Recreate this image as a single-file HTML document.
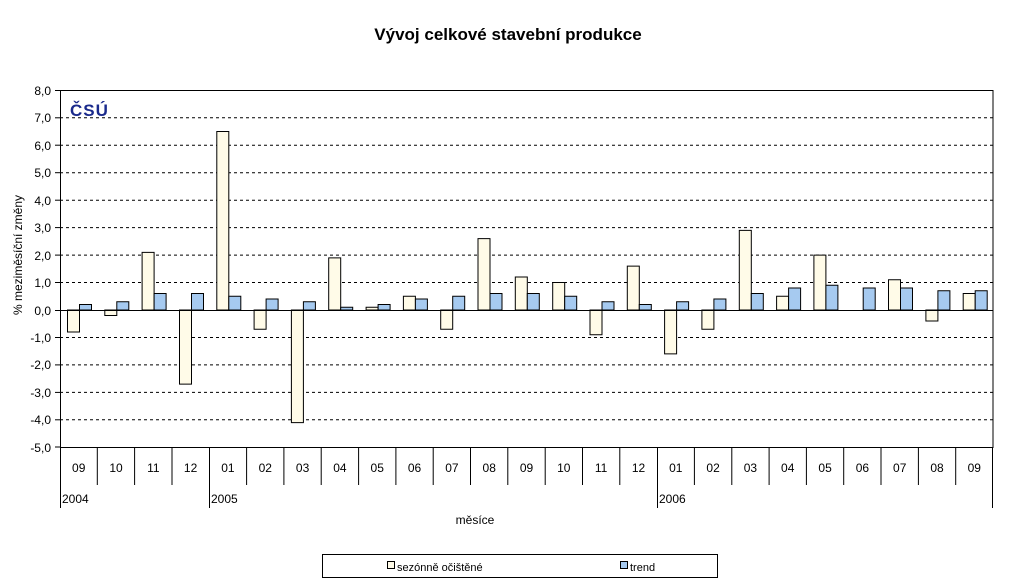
<!DOCTYPE html>
<html><head><meta charset="utf-8"><style>
body{margin:0;background:#fff}
svg{display:block;font-family:"Liberation Sans",sans-serif}
</style></head><body>
<svg width="1020" height="588" viewBox="0 0 1020 588">
<rect width="1020" height="588" fill="#fff"/>
<text x="508" y="40" text-anchor="middle" font-size="17" font-weight="bold">Vývoj celkové stavební produkce</text>
<g stroke="#000" stroke-width="1" stroke-dasharray="3,3">
<line x1="60" x2="993" y1="117.8" y2="117.8"/><line x1="60" x2="993" y1="145.2" y2="145.2"/>
<line x1="60" x2="993" y1="172.7" y2="172.7"/><line x1="60" x2="993" y1="200.2" y2="200.2"/>
<line x1="60" x2="993" y1="227.6" y2="227.6"/><line x1="60" x2="993" y1="255.1" y2="255.1"/>
<line x1="60" x2="993" y1="282.5" y2="282.5"/>
<line x1="60" x2="993" y1="337.5" y2="337.5"/><line x1="60" x2="993" y1="364.9" y2="364.9"/>
<line x1="60" x2="993" y1="392.4" y2="392.4"/><line x1="60" x2="993" y1="419.8" y2="419.8"/>
</g>
<g transform="translate(0,310) scale(1,-27.46)" stroke="#000" vector-effect="non-scaling-stroke">
<g fill="#fffbe8" stroke="#000">
<rect vector-effect="non-scaling-stroke" x="67.5" width="12" y="-0.8" height="0.8"/>
<rect vector-effect="non-scaling-stroke" x="104.8" width="12" y="-0.2" height="0.2"/>
<rect vector-effect="non-scaling-stroke" x="142.1" width="12" y="0" height="2.1"/>
<rect vector-effect="non-scaling-stroke" x="179.5" width="12" y="-2.7" height="2.7"/>
<rect vector-effect="non-scaling-stroke" x="216.8" width="12" y="0" height="6.5"/>
<rect vector-effect="non-scaling-stroke" x="254.1" width="12" y="-0.7" height="0.7"/>
<rect vector-effect="non-scaling-stroke" x="291.4" width="12" y="-4.1" height="4.1"/>
<rect vector-effect="non-scaling-stroke" x="328.7" width="12" y="0" height="1.9"/>
<rect vector-effect="non-scaling-stroke" x="366.1" width="12" y="0" height="0.1"/>
<rect vector-effect="non-scaling-stroke" x="403.4" width="12" y="0" height="0.5"/>
<rect vector-effect="non-scaling-stroke" x="440.7" width="12" y="-0.7" height="0.7"/>
<rect vector-effect="non-scaling-stroke" x="478.0" width="12" y="0" height="2.6"/>
<rect vector-effect="non-scaling-stroke" x="515.3" width="12" y="0" height="1.2"/>
<rect vector-effect="non-scaling-stroke" x="552.7" width="12" y="0" height="1.0"/>
<rect vector-effect="non-scaling-stroke" x="590.0" width="12" y="-0.9" height="0.9"/>
<rect vector-effect="non-scaling-stroke" x="627.3" width="12" y="0" height="1.6"/>
<rect vector-effect="non-scaling-stroke" x="664.6" width="12" y="-1.6" height="1.6"/>
<rect vector-effect="non-scaling-stroke" x="701.9" width="12" y="-0.7" height="0.7"/>
<rect vector-effect="non-scaling-stroke" x="739.3" width="12" y="0" height="2.9"/>
<rect vector-effect="non-scaling-stroke" x="776.6" width="12" y="0" height="0.5"/>
<rect vector-effect="non-scaling-stroke" x="813.9" width="12" y="0" height="2.0"/>
<rect vector-effect="non-scaling-stroke" x="888.5" width="12" y="0" height="1.1"/>
<rect vector-effect="non-scaling-stroke" x="925.9" width="12" y="-0.4" height="0.4"/>
<rect vector-effect="non-scaling-stroke" x="963.2" width="12" y="0" height="0.6"/>
</g>
<g fill="#a6caf0" stroke="#000">
<rect vector-effect="non-scaling-stroke" x="79.5" width="12" y="0" height="0.2"/>
<rect vector-effect="non-scaling-stroke" x="116.8" width="12" y="0" height="0.3"/>
<rect vector-effect="non-scaling-stroke" x="154.1" width="12" y="0" height="0.6"/>
<rect vector-effect="non-scaling-stroke" x="191.5" width="12" y="0" height="0.6"/>
<rect vector-effect="non-scaling-stroke" x="228.8" width="12" y="0" height="0.5"/>
<rect vector-effect="non-scaling-stroke" x="266.1" width="12" y="0" height="0.4"/>
<rect vector-effect="non-scaling-stroke" x="303.4" width="12" y="0" height="0.3"/>
<rect vector-effect="non-scaling-stroke" x="340.7" width="12" y="0" height="0.1"/>
<rect vector-effect="non-scaling-stroke" x="378.1" width="12" y="0" height="0.2"/>
<rect vector-effect="non-scaling-stroke" x="415.4" width="12" y="0" height="0.4"/>
<rect vector-effect="non-scaling-stroke" x="452.7" width="12" y="0" height="0.5"/>
<rect vector-effect="non-scaling-stroke" x="490.0" width="12" y="0" height="0.6"/>
<rect vector-effect="non-scaling-stroke" x="527.3" width="12" y="0" height="0.6"/>
<rect vector-effect="non-scaling-stroke" x="564.7" width="12" y="0" height="0.5"/>
<rect vector-effect="non-scaling-stroke" x="602.0" width="12" y="0" height="0.3"/>
<rect vector-effect="non-scaling-stroke" x="639.3" width="12" y="0" height="0.2"/>
<rect vector-effect="non-scaling-stroke" x="676.6" width="12" y="0" height="0.3"/>
<rect vector-effect="non-scaling-stroke" x="713.9" width="12" y="0" height="0.4"/>
<rect vector-effect="non-scaling-stroke" x="751.3" width="12" y="0" height="0.6"/>
<rect vector-effect="non-scaling-stroke" x="788.6" width="12" y="0" height="0.8"/>
<rect vector-effect="non-scaling-stroke" x="825.9" width="12" y="0" height="0.9"/>
<rect vector-effect="non-scaling-stroke" x="863.2" width="12" y="0" height="0.8"/>
<rect vector-effect="non-scaling-stroke" x="900.5" width="12" y="0" height="0.8"/>
<rect vector-effect="non-scaling-stroke" x="937.9" width="12" y="0" height="0.7"/>
<rect vector-effect="non-scaling-stroke" x="975.2" width="12" y="0" height="0.7"/>
</g>
</g>
<rect x="60.5" y="90.5" width="932.5" height="357" fill="none" stroke="#000"/>
<line x1="60" x2="993" y1="310.5" y2="310.5" stroke="#000"/>
<g stroke="#000">
<line x1="55" x2="60" y1="90.5" y2="90.5"/><line x1="55" x2="60" y1="117.8" y2="117.8"/><line x1="55" x2="60" y1="145.2" y2="145.2"/><line x1="55" x2="60" y1="172.7" y2="172.7"/><line x1="55" x2="60" y1="200.2" y2="200.2"/><line x1="55" x2="60" y1="227.6" y2="227.6"/><line x1="55" x2="60" y1="255.1" y2="255.1"/><line x1="55" x2="60" y1="282.5" y2="282.5"/><line x1="55" x2="60" y1="310.5" y2="310.5"/><line x1="55" x2="60" y1="337.5" y2="337.5"/><line x1="55" x2="60" y1="364.9" y2="364.9"/><line x1="55" x2="60" y1="392.4" y2="392.4"/><line x1="55" x2="60" y1="419.8" y2="419.8"/><line x1="55" x2="60" y1="447" y2="447"/>
</g>
<g font-size="12" text-anchor="end">
<text x="51" y="95">8,0</text><text x="51" y="122">7,0</text><text x="51" y="150">6,0</text><text x="51" y="177">5,0</text><text x="51" y="205">4,0</text><text x="51" y="232">3,0</text><text x="51" y="260">2,0</text><text x="51" y="287">1,0</text><text x="51" y="315">0,0</text><text x="51" y="342">-1,0</text><text x="51" y="369">-2,0</text><text x="51" y="397">-3,0</text><text x="51" y="424">-4,0</text><text x="51" y="452">-5,0</text>
</g>
<text transform="translate(22,255) rotate(-90)" font-size="12" text-anchor="middle">% meziměsíční změny</text>
<text x="70" y="116" font-size="17" font-weight="bold" fill="#1a2a8c" letter-spacing="1">ČSÚ</text>
<g stroke="#000">
<line x1="60.5" x2="60.5" y1="447" y2="508"/><line x1="97.3" x2="97.3" y1="447" y2="485"/><line x1="134.6" x2="134.6" y1="447" y2="485"/><line x1="172" x2="172" y1="447" y2="485"/><line x1="209.5" x2="209.5" y1="447" y2="508"/><line x1="246.6" x2="246.6" y1="447" y2="485"/><line x1="283.9" x2="283.9" y1="447" y2="485"/><line x1="321.2" x2="321.2" y1="447" y2="485"/><line x1="358.6" x2="358.6" y1="447" y2="485"/><line x1="395.9" x2="395.9" y1="447" y2="485"/><line x1="433.2" x2="433.2" y1="447" y2="485"/><line x1="470.5" x2="470.5" y1="447" y2="485"/><line x1="507.8" x2="507.8" y1="447" y2="485"/><line x1="545.2" x2="545.2" y1="447" y2="485"/><line x1="582.5" x2="582.5" y1="447" y2="485"/><line x1="619.8" x2="619.8" y1="447" y2="485"/><line x1="657.5" x2="657.5" y1="447" y2="508"/><line x1="694.4" x2="694.4" y1="447" y2="485"/><line x1="731.8" x2="731.8" y1="447" y2="485"/><line x1="769.1" x2="769.1" y1="447" y2="485"/><line x1="806.4" x2="806.4" y1="447" y2="485"/><line x1="843.7" x2="843.7" y1="447" y2="485"/><line x1="881" x2="881" y1="447" y2="485"/><line x1="918.4" x2="918.4" y1="447" y2="485"/><line x1="955.7" x2="955.7" y1="447" y2="485"/><line x1="992.5" x2="992.5" y1="447" y2="508"/>
</g>
<g font-size="12" text-anchor="middle">
<text x="78.7" y="472">09</text><text x="116" y="472">10</text><text x="153.3" y="472">11</text><text x="190.6" y="472">12</text><text x="227.9" y="472">01</text><text x="265.3" y="472">02</text><text x="302.6" y="472">03</text><text x="339.9" y="472">04</text><text x="377.2" y="472">05</text><text x="414.5" y="472">06</text><text x="451.9" y="472">07</text><text x="489.2" y="472">08</text><text x="526.5" y="472">09</text><text x="563.8" y="472">10</text><text x="601.1" y="472">11</text><text x="638.5" y="472">12</text><text x="675.8" y="472">01</text><text x="713.1" y="472">02</text><text x="750.4" y="472">03</text><text x="787.7" y="472">04</text><text x="825.1" y="472">05</text><text x="862.4" y="472">06</text><text x="899.7" y="472">07</text><text x="937" y="472">08</text><text x="974.3" y="472">09</text>
</g>
<g font-size="12">
<text x="62" y="503">2004</text><text x="211" y="503">2005</text><text x="659" y="503">2006</text>
</g>
<text x="475" y="524" font-size="12" text-anchor="middle">měsíce</text>
<rect x="322.5" y="554.5" width="395" height="23" fill="#fff" stroke="#000"/>
<rect x="387.5" y="561.5" width="7" height="7" fill="#fffbe8" stroke="#000"/>
<text x="397" y="571" font-size="11">sezónně očištěné</text>
<rect x="620.5" y="561.5" width="7" height="7" fill="#a6caf0" stroke="#000"/>
<text x="630" y="571" font-size="11">trend</text>
</svg>
</body></html>
